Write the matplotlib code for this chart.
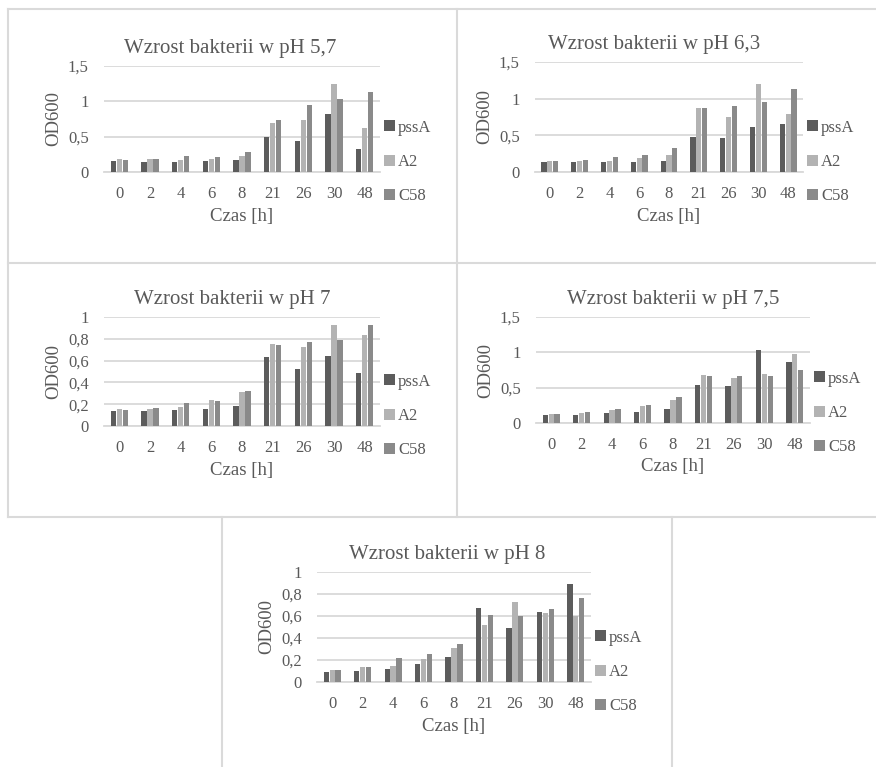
import matplotlib
matplotlib.use("Agg")
import matplotlib.pyplot as plt
from matplotlib.lines import Line2D

plt.rcParams["font.family"] = "Liberation Serif"

W, H = 876, 767
TXT = "#595959"
GRID = "#D9D9D9"
COLORS = ["#5c5c5c", "#b3b3b3", "#8a8a8a"]   # pssA, A2, C58

hours = ["0", "2", "4", "6", "8", "21", "26", "30", "48"]
strains = ["pssA", "A2", "C58"]

# OD600 readings per pH, one list per strain
ph57_pssA = [0.16, 0.145, 0.145, 0.155, 0.17, 0.50, 0.445, 0.82, 0.33]
ph57_A2   = [0.18, 0.18, 0.165, 0.18, 0.22, 0.69, 0.73, 1.25, 0.62]
ph57_C58  = [0.17, 0.19, 0.225, 0.21, 0.28, 0.74, 0.95, 1.03, 1.13]

ph63_pssA = [0.136, 0.13, 0.135, 0.14, 0.155, 0.48, 0.465, 0.62, 0.655]
ph63_A2   = [0.155, 0.155, 0.155, 0.19, 0.23, 0.87, 0.75, 1.20, 0.795]
ph63_C58  = [0.155, 0.17, 0.20, 0.235, 0.33, 0.875, 0.905, 0.96, 1.13]

ph7_pssA = [0.138, 0.135, 0.147, 0.156, 0.184, 0.635, 0.525, 0.644, 0.49]
ph7_A2   = [0.156, 0.156, 0.175, 0.24, 0.313, 0.75, 0.724, 0.93, 0.837]
ph7_C58  = [0.147, 0.163, 0.21, 0.23, 0.322, 0.745, 0.77, 0.79, 0.93]

ph75_pssA = [0.113, 0.113, 0.137, 0.156, 0.20, 0.54, 0.53, 1.03, 0.86]
ph75_A2   = [0.127, 0.137, 0.18, 0.236, 0.32, 0.68, 0.63, 0.70, 0.97]
ph75_C58  = [0.127, 0.15, 0.20, 0.26, 0.37, 0.665, 0.665, 0.665, 0.75]

ph8_pssA = [0.095, 0.098, 0.116, 0.162, 0.226, 0.677, 0.494, 0.64, 0.887]
ph8_A2   = [0.107, 0.137, 0.146, 0.213, 0.308, 0.52, 0.723, 0.625, 0.60]
ph8_C58  = [0.107, 0.137, 0.216, 0.253, 0.345, 0.61, 0.60, 0.66, 0.762]

fig = plt.figure(figsize=(W / 100, H / 100), dpi=100)


def fx(px):
    return px / W


def fy(py):
    return 1 - py / H


def panel(title, series, ymax, ystep, yfmt, box, title_x):
    # box = (left, right, top-of-scale, zero line) in pixels
    l, r, t, b = box
    ax = fig.add_axes([fx(l), fy(b), fx(r) - fx(l), fy(t) - fy(b)])
    x = range(len(hours))
    w, off = 0.175, 0.195
    bars = []
    for k, (vals, c) in enumerate(zip(series, COLORS)):
        bars.append(ax.bar([i + (k - 1) * off for i in x], vals, w, color=c, zorder=3))
    ax.set_xlim(-0.5, len(hours) - 0.5)
    ax.set_ylim(0, ymax)
    ticks = [i * ystep for i in range(int(round(ymax / ystep)) + 1)]
    ax.set_yticks(ticks)
    ax.set_yticklabels([yfmt(v) for v in ticks])
    ax.set_xticks(list(x))
    ax.set_xticklabels(hours)
    ax.tick_params(length=0, labelsize=12, labelcolor=TXT)
    ax.tick_params(axis="y", pad=11)
    ax.tick_params(axis="x", pad=10)
    ax.grid(axis="y", color=GRID, lw=1.3, zorder=0)
    for s in ["top", "right", "left"]:
        ax.spines[s].set_visible(False)
    ax.spines["bottom"].set_color(GRID)
    ax.spines["bottom"].set_linewidth(1.3)
    ax.patch.set_alpha(0)

    fig.text(fx(title_x), fy(t - 18), title, ha="center", va="center",
             fontsize=15, color=TXT)
    fig.text(fx((l + r) / 2), fy(b + 44), "Czas [h]", ha="center", va="center",
             fontsize=13.5, color=TXT)
    fig.text(fx(l - 50), fy((t + b) / 2), "OD600", ha="center", va="center",
             rotation=90, fontsize=13.5, color=TXT)

    ax.legend(bars, strains, loc="center left", frameon=False,
              bbox_to_anchor=(fx(r + 4), fy(b - 10)), bbox_transform=fig.transFigure,
              fontsize=12, labelcolor=TXT, handlelength=0.65, handleheight=0.65,
              handletextpad=0.2, labelspacing=1.1, borderaxespad=0, borderpad=0)
    return ax


comma = lambda v: ("%g" % round(v, 2)).replace(".", ",")

panel("Wzrost bakterii w pH 5,7", [ph57_pssA, ph57_A2, ph57_C58], 1.5, 0.5, comma,
      (104, 380, 66, 172), 230)
panel("Wzrost bakterii w pH 6,3", [ph63_pssA, ph63_A2, ph63_C58], 1.5, 0.5, comma,
      (535, 803, 62, 172), 654)
panel("Wzrost bakterii w pH 7", [ph7_pssA, ph7_A2, ph7_C58], 1.0, 0.2, comma,
      (104, 380, 317, 426), 232)
panel("Wzrost bakterii w pH 7,5", [ph75_pssA, ph75_A2, ph75_C58], 1.5, 0.5, comma,
      (536, 810, 317, 423), 673)
panel("Wzrost bakterii w pH 8", [ph8_pssA, ph8_A2, ph8_C58], 1.0, 0.2, comma,
      (317, 591, 572, 682), 447)

# table cell borders around the charts
BORDER = "#DADADA"
segments = [
    ((8, 876), (9, 9)),
    ((8, 876), (262.5, 262.5)),
    ((8, 876), (517, 517)),
    ((8, 8), (9, 517)),
    ((457, 457), (9, 517)),
    ((221.5, 221.5), (517, 767)),
    ((671.5, 671.5), (517, 767)),
]
for xs, ys in segments:
    fig.add_artist(Line2D([fx(v) for v in xs], [fy(v) for v in ys],
                          transform=fig.transFigure, color=BORDER, lw=1.5))

fig.savefig("out.png", dpi=100, facecolor="white")
